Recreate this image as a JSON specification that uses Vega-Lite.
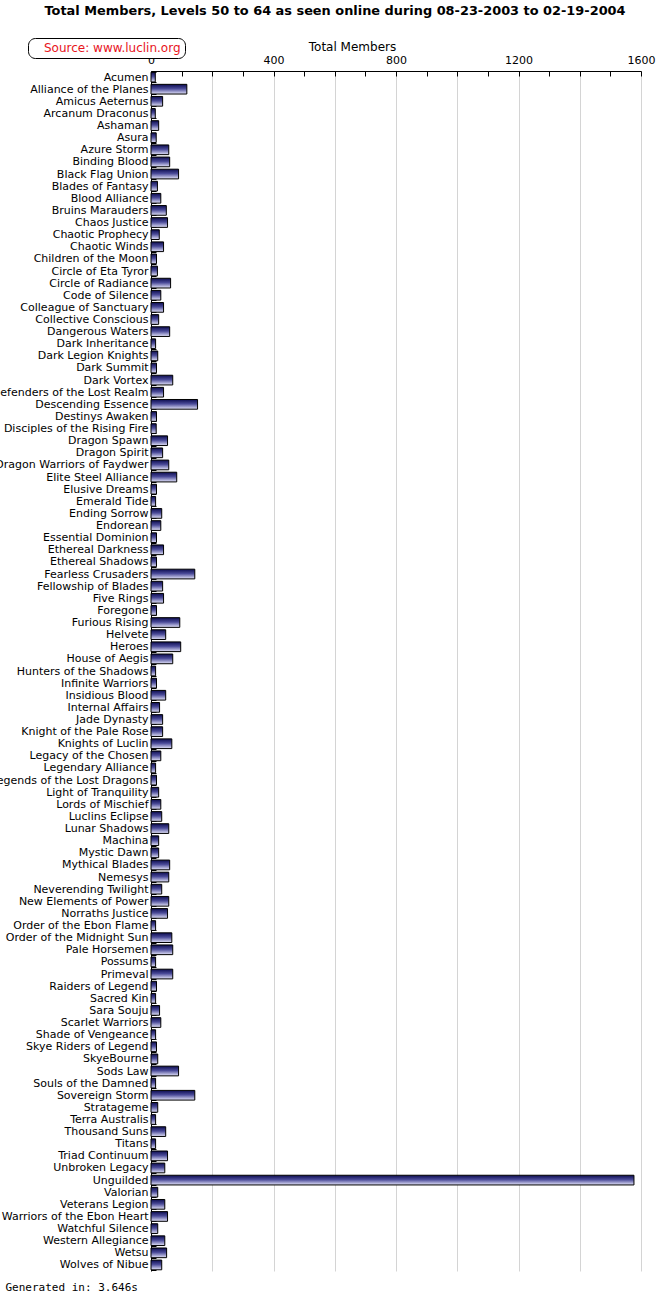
{
  "$schema": "https://vega.github.io/schema/vega-lite/v6.json",
  "width": 490,
  "height": 1200,
  "autosize": {"type": "none"},
  "padding": {"left": 151, "top": 71, "right": 29, "bottom": 29},
  "background": "white",
  "title": {
    "text": "Total Members, Levels 50 to 64 as seen online during 08-23-2003 to 02-19-2004",
    "anchor": "middle",
    "dx": -61,
    "font": "DejaVu Sans",
    "fontSize": 12.9,
    "fontWeight": "bold",
    "color": "black",
    "offset": 20
  },
  "config": {"view": {"stroke": null}},
  "data": {
    "values": [
      {"guild": "Acumen", "members": 14},
      {"guild": "Alliance of the Planes", "members": 117},
      {"guild": "Amicus Aeternus", "members": 38},
      {"guild": "Arcanum Draconus", "members": 14},
      {"guild": "Ashaman", "members": 25},
      {"guild": "Asura", "members": 17},
      {"guild": "Azure Storm", "members": 58},
      {"guild": "Binding Blood", "members": 61},
      {"guild": "Black Flag Union", "members": 90},
      {"guild": "Blades of Fantasy", "members": 21},
      {"guild": "Blood Alliance", "members": 32},
      {"guild": "Bruins Marauders", "members": 50},
      {"guild": "Chaos Justice", "members": 54},
      {"guild": "Chaotic Prophecy", "members": 27},
      {"guild": "Chaotic Winds", "members": 41},
      {"guild": "Children of the Moon", "members": 18},
      {"guild": "Circle of Eta Tyror", "members": 21},
      {"guild": "Circle of Radiance", "members": 64},
      {"guild": "Code of Silence", "members": 32},
      {"guild": "Colleague of Sanctuary", "members": 41},
      {"guild": "Collective Conscious", "members": 25},
      {"guild": "Dangerous Waters", "members": 61},
      {"guild": "Dark Inheritance", "members": 15},
      {"guild": "Dark Legion Knights", "members": 22},
      {"guild": "Dark Summit", "members": 18},
      {"guild": "Dark Vortex", "members": 71},
      {"guild": "Defenders of the Lost Realm", "members": 41},
      {"guild": "Descending Essence", "members": 152},
      {"guild": "Destinys Awaken", "members": 18},
      {"guild": "Disciples of the Rising Fire", "members": 17},
      {"guild": "Dragon Spawn", "members": 54},
      {"guild": "Dragon Spirit", "members": 38},
      {"guild": "Dragon Warriors of Faydwer", "members": 58},
      {"guild": "Elite Steel Alliance", "members": 84},
      {"guild": "Elusive Dreams", "members": 18},
      {"guild": "Emerald Tide", "members": 15},
      {"guild": "Ending Sorrow", "members": 35},
      {"guild": "Endorean", "members": 32},
      {"guild": "Essential Dominion", "members": 18},
      {"guild": "Ethereal Darkness", "members": 41},
      {"guild": "Ethereal Shadows", "members": 18},
      {"guild": "Fearless Crusaders", "members": 143},
      {"guild": "Fellowship of Blades", "members": 38},
      {"guild": "Five Rings", "members": 41},
      {"guild": "Foregone", "members": 18},
      {"guild": "Furious Rising", "members": 94},
      {"guild": "Helvete", "members": 48},
      {"guild": "Heroes", "members": 97},
      {"guild": "House of Aegis", "members": 71},
      {"guild": "Hunters of the Shadows", "members": 15},
      {"guild": "Infinite Warriors", "members": 18},
      {"guild": "Insidious Blood", "members": 48},
      {"guild": "Internal Affairs", "members": 28},
      {"guild": "Jade Dynasty", "members": 38},
      {"guild": "Knight of the Pale Rose", "members": 38},
      {"guild": "Knights of Luclin", "members": 68},
      {"guild": "Legacy of the Chosen", "members": 32},
      {"guild": "Legendary Alliance", "members": 15},
      {"guild": "Legends of the Lost Dragons", "members": 18},
      {"guild": "Light of Tranquility", "members": 25},
      {"guild": "Lords of Mischief", "members": 32},
      {"guild": "Luclins Eclipse", "members": 35},
      {"guild": "Lunar Shadows", "members": 58},
      {"guild": "Machina", "members": 25},
      {"guild": "Mystic Dawn", "members": 25},
      {"guild": "Mythical Blades", "members": 61},
      {"guild": "Nemesys", "members": 58},
      {"guild": "Neverending Twilight", "members": 35},
      {"guild": "New Elements of Power", "members": 58},
      {"guild": "Norraths Justice", "members": 54},
      {"guild": "Order of the Ebon Flame", "members": 15},
      {"guild": "Order of the Midnight Sun", "members": 68},
      {"guild": "Pale Horsemen", "members": 71},
      {"guild": "Possums", "members": 15},
      {"guild": "Primeval", "members": 71},
      {"guild": "Raiders of Legend", "members": 18},
      {"guild": "Sacred Kin", "members": 15},
      {"guild": "Sara Souju", "members": 28},
      {"guild": "Scarlet Warriors", "members": 32},
      {"guild": "Shade of Vengeance", "members": 15},
      {"guild": "Skye Riders of Legend", "members": 18},
      {"guild": "SkyeBourne", "members": 22},
      {"guild": "Sods Law", "members": 90},
      {"guild": "Souls of the Damned", "members": 15},
      {"guild": "Sovereign Storm", "members": 143},
      {"guild": "Stratageme", "members": 22},
      {"guild": "Terra Australis", "members": 15},
      {"guild": "Thousand Suns", "members": 48},
      {"guild": "Titans", "members": 15},
      {"guild": "Triad Continuum", "members": 54},
      {"guild": "Unbroken Legacy", "members": 45},
      {"guild": "Unguilded", "members": 1577},
      {"guild": "Valorian", "members": 22},
      {"guild": "Veterans Legion", "members": 45},
      {"guild": "Warriors of the Ebon Heart", "members": 54},
      {"guild": "Watchful Silence", "members": 22},
      {"guild": "Western Allegiance", "members": 45},
      {"guild": "Wetsu", "members": 51},
      {"guild": "Wolves of Nibue", "members": 35}
    ]
  },
  "mark": {
    "type": "bar",
    "fill": {
      "gradient": "linear",
      "x1": 0, "y1": 0, "x2": 0, "y2": 1,
      "stops": [
        {"offset": 0, "color": "#0c0c50"},
        {"offset": 0.45, "color": "#4a4a98"},
        {"offset": 1, "color": "#e4e4fa"}
      ]
    },
    "strokeWidth": 1
  },
  "encoding": {
    "y": {
      "field": "guild",
      "type": "nominal",
      "sort": null,
      "scale": {"paddingInner": 0.2, "paddingOuter": 0.1},
      "axis": {
        "title": "Generated in: 3.646s",
        "titleAngle": 0,
        "titleAlign": "left",
        "titleBaseline": "middle",
        "titleX": -146,
        "titleY": 1216,
        "titleFont": "DejaVu Sans Mono",
        "titleFontSize": 11,
        "titleFontWeight": "normal",
        "titleColor": "black",
        "labelFont": "DejaVu Sans",
        "labelFontSize": 11,
        "labelColor": "black",
        "labelPadding": 8,
        "labelLimit": 200,
        "tickBand": "extent",
        "tickSize": -5,
        "tickColor": "black",
        "domainColor": "black",
        "grid": false
      }
    },
    "x": {
      "field": "members",
      "type": "quantitative",
      "scale": {"domain": [0, 1600], "nice": false},
      "axis": {
        "orient": "top",
        "values": [0, 100, 200, 300, 400, 500, 600, 700, 800, 900, 1000, 1100, 1200, 1300, 1400, 1500, 1600],
        "format": "d",
        "labelExpr": "datum.value % 400 == 0 ? datum.label : ''",
        "labelOverlap": false,
        "labelFlush": false,
        "labelFont": "DejaVu Sans",
        "labelFontSize": 11,
        "labelColor": "black",
        "labelPadding": 11,
        "grid": true,
        "gridColor": "#d4d4d4",
        "gridOpacity": {"condition": {"test": "datum.value % 200 == 0 && datum.value > 0", "value": 1}, "value": 0},
        "tickSize": -5,
        "tickColor": "black",
        "domainColor": "black",
        "title": "Total Members",
        "titleFont": "DejaVu Sans",
        "titleFontSize": 12,
        "titleFontWeight": "normal",
        "titleColor": "black",
        "titleX": 201,
        "titleY": -25,
        "titleBaseline": "middle"
      }
    },
    "stroke": {
      "datum": "Source: www.luclin.org",
      "type": "nominal",
      "scale": {"range": ["black"]},
      "legend": {
        "orient": "none",
        "legendX": -123,
        "legendY": -33,
        "title": null,
        "symbolSize": 0,
        "symbolOpacity": 0,
        "symbolStrokeWidth": 0,
        "labelOffset": 0,
        "labelColor": "#e8141c",
        "labelFont": "DejaVu Sans",
        "labelFontSize": 12,
        "labelLimit": 300,
        "fillColor": "white",
        "strokeColor": "black",
        "cornerRadius": 7,
        "padding": 4
      }
    }
  }
}
